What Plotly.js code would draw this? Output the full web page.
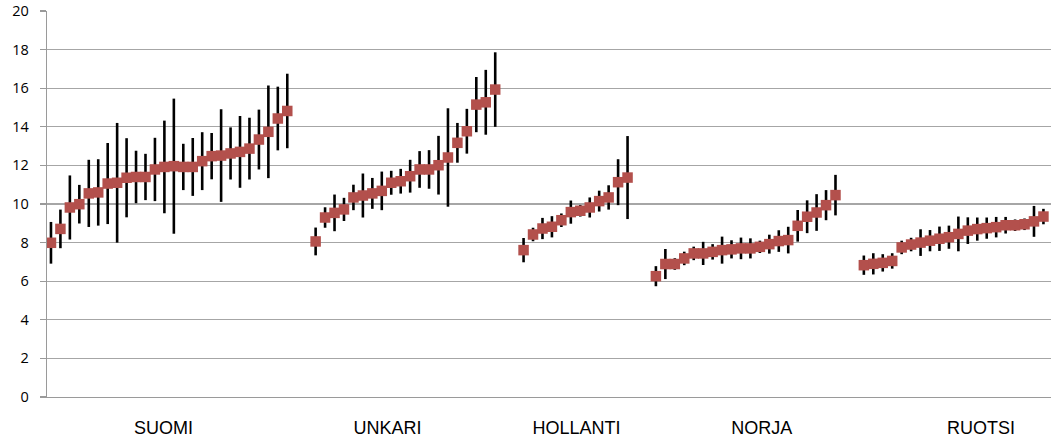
<!DOCTYPE html>
<html>
<head>
<meta charset="utf-8">
<script src="https://cdn.plot.ly/plotly-3.0.1.min.js"></script>
<style>html,body{margin:0;padding:0;background:#fff;}#chart{width:1051px;height:438px;}</style>
</head>
<body>
<div id="chart"></div>
<script>
// Group names (category labels)
const groups = ["SUOMI", "UNKARI", "HOLLANTI", "NORJA", "RUOTSI"];

// Values (means) per group
const suomi = [7.99, 8.71, 9.82, 9.99, 10.55, 10.6, 11.06, 11.1, 11.36, 11.4, 11.4, 11.79, 11.92, 11.96, 11.92, 11.92, 12.22, 12.48, 12.51, 12.62, 12.7, 12.87, 13.34, 13.74, 14.43, 14.82];
const suomiErr = [1.08, 1.0, 1.66, 1.0, 1.74, 1.72, 2.1, 3.1, 2.05, 1.36, 1.2, 1.64, 2.4, 3.5, 1.2, 1.5, 1.5, 1.2, 2.4, 1.35, 1.86, 1.6, 1.55, 2.4, 1.65, 1.93];

const unkari = [8.06, 9.3, 9.54, 9.72, 10.34, 10.44, 10.55, 10.68, 11.1, 11.18, 11.44, 11.79, 11.79, 12.01, 12.41, 13.17, 13.77, 15.15, 15.27, 15.93];
const unkariErr = [0.72, 0.53, 0.95, 0.6, 0.66, 1.14, 0.8, 1.0, 0.62, 0.64, 0.85, 0.95, 1.0, 1.52, 2.55, 1.03, 1.16, 1.43, 1.68, 1.93];

const hollanti = [7.61, 8.42, 8.73, 8.82, 9.16, 9.58, 9.65, 9.82, 10.15, 10.34, 11.13, 11.37];
const hollantiErr = [0.63, 0.35, 0.55, 0.55, 0.35, 0.6, 0.3, 0.52, 0.54, 0.63, 1.19, 2.15];

const norja = [6.26, 6.89, 6.89, 7.18, 7.44, 7.44, 7.52, 7.61, 7.65, 7.7, 7.7, 7.78, 7.92, 8.08, 8.13, 8.87, 9.34, 9.56, 9.94, 10.46];
const norjaErr = [0.52, 0.78, 0.3, 0.35, 0.35, 0.6, 0.4, 0.7, 0.47, 0.56, 0.52, 0.32, 0.49, 0.56, 0.69, 0.82, 0.85, 0.95, 0.78, 1.05];

const ruotsi = [6.83, 6.9, 6.95, 7.05, 7.75, 7.9, 8.0, 8.1, 8.2, 8.28, 8.45, 8.62, 8.7, 8.75, 8.8, 8.9, 8.9, 8.95, 9.1, 9.35];
const ruotsiErr = [0.5, 0.55, 0.45, 0.4, 0.35, 0.35, 0.69, 0.55, 0.63, 0.6, 0.9, 0.69, 0.6, 0.55, 0.53, 0.43, 0.3, 0.3, 0.8, 0.4];

const yTickVals = [0, 2, 4, 6, 8, 10, 12, 14, 16, 18, 20];

// Build one series on a category index axis, two empty categories between groups
const seriesVals = [suomi, unkari, hollanti, norja, ruotsi];
const seriesErrs = [suomiErr, unkariErr, hollantiErr, norjaErr, ruotsiErr];
const GAP = 2;
let x = [], y = [], e = [];
let labelPos = [];
let idx = 0;
seriesVals.forEach((vals, g) => {
  const start = idx;
  vals.forEach((v, i) => { x.push(idx); y.push(v); e.push(seriesErrs[g][i]); idx++; });
  labelPos.push(start);
  idx += GAP;
});
// label anchor offsets within each group (as drawn in the reference)
const labelOffset = [11.9, 7.6, 5.6, 11.2, 12.4];
const tickPositions = labelPos.map((s, i) => s + labelOffset[i]);

const trace = {
  x: x, y: y, type: 'scatter', mode: 'markers',
  marker: {symbol: 'square', size: 10.5, color: '#b3504c'},
  error_y: {type: 'data', array: e, visible: true, color: '#000000', thickness: 2.6, width: 0},
  hoverinfo: 'y', showlegend: false
};

const layout = {
  width: 1051, height: 438,
  margin: {l: 47, r: 0, t: 11, b: 41},
  paper_bgcolor: '#ffffff', plot_bgcolor: '#ffffff',
  showlegend: false,
  xaxis: {
    range: [-0.42, 105.8],
    tickmode: 'array', tickvals: tickPositions, ticktext: groups,
    ticks: '', showgrid: false, zeroline: false,
    showline: true, linecolor: '#9a9a9a', linewidth: 1.3,
    tickfont: {family: 'Liberation Sans, Arial, sans-serif', size: 18, color: '#000'},
    ticklabelstandoff: 14
  },
  yaxis: {
    range: [0, 20],
    tickmode: 'array', tickvals: yTickVals, ticktext: yTickVals.map(String),
    ticks: 'outside', ticklen: 6, tickcolor: '#9a9a9a', tickwidth: 1.3,
    showgrid: true, gridcolor: '#a6a6a6', gridwidth: 1.3,
    zeroline: false, showline: true, linecolor: '#9a9a9a', linewidth: 1.3,
    tickfont: {family: 'Open Sans, sans-serif', size: 14.5, color: '#000'},
    ticklabelstandoff: 8
  }
};

Plotly.newPlot('chart', [trace], layout, {staticPlot: true, displayModeBar: false});
</script>
</body>
</html>
